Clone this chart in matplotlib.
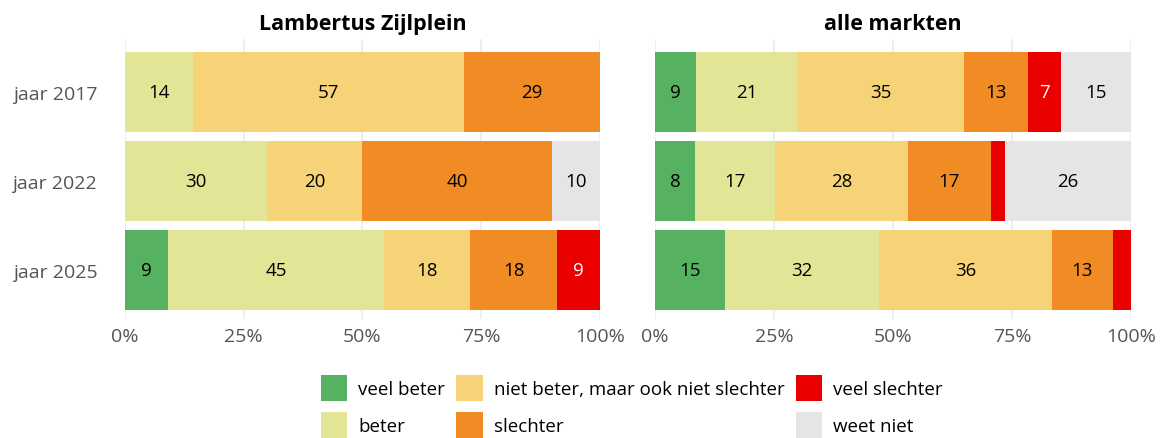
import matplotlib.pyplot as plt
from matplotlib.patches import Patch

plt.rcParams['font.family'] = ['Open Sans', 'DejaVu Sans']

# answer categories and colours
categories = ['veel beter', 'beter', 'niet beter, maar ook niet slechter',
              'slechter', 'veel slechter', 'weet niet']
colors = ['#56B261', '#E2E596', '#F7D377', '#F18B23', '#EB0000', '#E5E5E5']
years = ['jaar 2017', 'jaar 2022', 'jaar 2025']

# percentages per year (2017, 2022, 2025), one list per category
lambertus = {
    'veel beter': [0, 0, 9.09],
    'beter': [14.29, 30, 45.45],
    'niet beter, maar ook niet slechter': [57.14, 20, 18.18],
    'slechter': [28.57, 40, 18.18],
    'veel slechter': [0, 0, 9.09],
    'weet niet': [0, 10, 0],
}
alle_markten = {
    'veel beter': [8.6, 8.4, 14.7],
    'beter': [21.2, 16.8, 32.4],
    'niet beter, maar ook niet slechter': [35.2, 28.0, 36.3],
    'slechter': [13.3, 17.3, 12.8],
    'veel slechter': [7.0, 3.1, 3.8],
    'weet niet': [14.7, 26.4, 0],
}

fig = plt.figure(figsize=(11.65, 4.39), dpi=100, facecolor='white')
ax1 = fig.add_axes([0.1073, 0.2711, 0.4077, 0.6378])
ax2 = fig.add_axes([0.5622, 0.2711, 0.4086, 0.6378])


def draw(ax, data, title, show_years):
    left = [0, 0, 0]
    ypos = list(range(len(years)))
    for cat, col in zip(categories, colors):
        vals = data[cat]
        ax.barh(ypos, vals, left=left, height=0.9, color=col, linewidth=0, zorder=2)
        for y, v, l in zip(ypos, vals, left):
            if v >= 5:
                tc = 'white' if cat == 'veel slechter' else 'black'
                ax.text(l + v / 2, y, str(round(v)), ha='center', va='center',
                        fontsize=13.5, color=tc, zorder=3)
        left = [a + b for a, b in zip(left, vals)]
    ax.set_xlim(0, 100)
    ax.set_ylim(2.55, -0.596)
    ax.set_xticks([0, 25, 50, 75, 100])
    ax.set_xticklabels(['0%', '25%', '50%', '75%', '100%'])
    ax.set_yticks(ypos)
    if show_years:
        ax.set_yticklabels(years)
    else:
        ax.set_yticklabels([])
    ax.tick_params(axis='x', length=0, labelsize=14, labelcolor='#555555', pad=6)
    ax.tick_params(axis='y', length=0, labelsize=14, labelcolor='#555555', pad=20)
    ax.grid(axis='x', color='#EBEBEB', linewidth=1.2, zorder=0)
    ax.set_axisbelow(True)
    for s in ax.spines.values():
        s.set_visible(False)
    ax.set_title(title, fontsize=15.5, fontweight='bold', pad=7)


draw(ax1, lambertus, 'Lambertus Zijlplein', True)
draw(ax2, alle_markten, 'alle markten', False)

handles = [Patch(facecolor=c, edgecolor='none', label=n) for n, c in zip(categories, colors)]
fig.legend(handles=handles, ncol=3, loc='lower left', bbox_to_anchor=(321 / 1165, 0.0),
           frameon=False, fontsize=13.5, handlelength=1.39, handleheight=1.76,
           handletextpad=0.6, columnspacing=0.6, labelspacing=0.59,
           borderpad=0, borderaxespad=0)

fig.savefig('out.png', dpi=100, facecolor='white')
